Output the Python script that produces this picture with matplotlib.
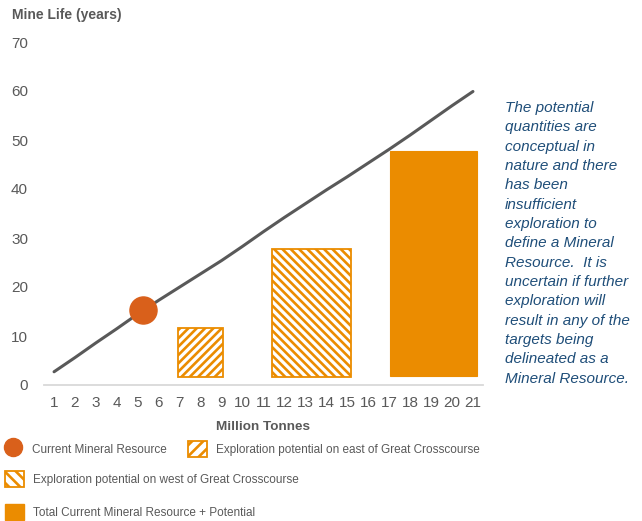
import matplotlib
matplotlib.use("Agg")
import matplotlib.pyplot as plt
from matplotlib.lines import Line2D
from matplotlib.patches import Patch

plt.rcParams['font.family'] = ['Liberation Sans', 'DejaVu Sans']
plt.rcParams['hatch.linewidth'] = 1.9

# ---- data ----
line_x = list(range(1, 22))
line_y = [2.7, 5.6, 8.6, 11.5, 14.5, 17.3, 20.0, 22.7, 25.4, 28.3, 31.3,
          34.2, 37.0, 39.8, 42.5, 45.3, 48.1, 51.0, 54.0, 57.0, 59.9]

current_x = [5.26]
current_y = [15.3]

bar_names = ["Exploration potential on east of Great Crosscourse",
             "Exploration potential on west of Great Crosscourse",
             "Total Current Mineral Resource + Potential"]
bar_start = [6.9, 11.4, 17.05]
bar_end = [9.05, 15.2, 21.2]
bar_low = [1.7, 1.7, 1.8]
bar_high = [11.7, 27.8, 47.8]

x_ticks = list(range(1, 22))
y_ticks = [0, 10, 20, 30, 40, 50, 60, 70]

ORANGE = "#EB8C00"
DOT = "#D9601B"
GREY = "#595959"
BLUE = "#1F4E79"

fig = plt.figure(figsize=(6.42, 5.21), dpi=100)
ax = fig.add_axes([44/642, 1-385/521, (483-44)/642, (385-42)/521])

ax.plot(line_x, line_y, color=GREY, lw=2.2, solid_capstyle='round', zorder=3)

hatches = ['////', '\\\\\\\\', None]
for s, e, lo, hi, h in zip(bar_start, bar_end, bar_low, bar_high, hatches):
    if h:
        ax.bar(s, hi - lo, width=e - s, bottom=lo, align='edge',
               facecolor='white', edgecolor=ORANGE, hatch=h, lw=1.3, zorder=2)
    else:
        ax.bar(s, hi - lo, width=e - s, bottom=lo, align='edge',
               facecolor=ORANGE, edgecolor=ORANGE, lw=0.8, zorder=2)

ax.plot(current_x, current_y, 'o', color=DOT, markersize=19.5, zorder=4)

ax.set_xlim(0.52, 21.48)
ax.set_ylim(0, 70)
ax.set_xticks(x_ticks)
ax.set_xticklabels([str(t) for t in x_ticks])
ax.set_yticks(y_ticks)
ax.tick_params(length=0, labelsize=11, colors=GREY)
ax.tick_params(axis='x', pad=8)
ax.tick_params(axis='y', pad=11.5)
for sp in ['top', 'right', 'left']:
    ax.spines[sp].set_visible(False)
ax.spines['bottom'].set_color("#D9D9D9")
ax.spines['bottom'].set_linewidth(1.3)

ax.set_xlabel("Million Tonnes", fontsize=9.7, fontweight='bold', color=GREY, labelpad=8)
fig.text(12/642, 1-15/521, "Mine Life (years)", fontsize=10, fontweight='bold',
         color=GREY, ha='left', va='center')

note = ("The potential\nquantities are\nconceptual in\nnature and there\nhas been\ninsufficient\n"
        "exploration to\ndefine a Mineral\nResource.  It is\nuncertain if further\n"
        "exploration will\nresult in any of the\ntargets being\ndelineated as a\nMineral Resource.")
fig.text(505/642, 1-101/521, note, fontsize=11, style='italic', color=BLUE,
         ha='left', va='top', linespacing=1.485)

# ---- legends ----
leg_kw = dict(frameon=False, fontsize=8.5, labelcolor=GREY, borderpad=0,
              borderaxespad=0, handlelength=1.6, handleheight=1.6,
              handletextpad=0.75, loc='center left')
h_dot = Line2D([], [], marker='o', linestyle='none', color=DOT, markersize=13)
h_east = Patch(facecolor='white', edgecolor=ORANGE, hatch='///', lw=1.3)
h_west = Patch(facecolor='white', edgecolor=ORANGE, hatch='\\\\\\', lw=1.3)
h_tot = Patch(facecolor=ORANGE, edgecolor=ORANGE)

fig.legend([h_dot], ["Current Mineral Resource"], bbox_to_anchor=(4/642, 1-449/521), **leg_kw)
fig.legend([h_east], [bar_names[0]], bbox_to_anchor=(188/642, 1-449/521), **leg_kw)
fig.legend([h_west], [bar_names[1]], bbox_to_anchor=(5/642, 1-479/521), **leg_kw)
fig.legend([h_tot], [bar_names[2]], bbox_to_anchor=(5/642, 1-512/521), **leg_kw)

fig.savefig("out.png", dpi=100)
